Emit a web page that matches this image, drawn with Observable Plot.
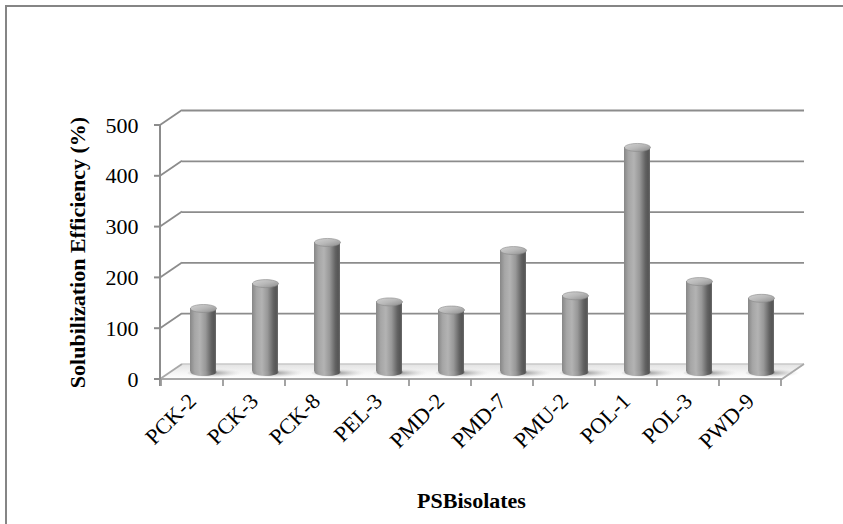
<!DOCTYPE html>
<html>
<head>
<meta charset="utf-8">
<script src="https://cdn.jsdelivr.net/npm/d3@7"></script>
<script src="https://cdn.jsdelivr.net/npm/@observablehq/plot@0.6"></script>
<style>
  body { margin: 0; background: #fff; }
  #wrap { position: relative; width: 843px; height: 524px; overflow: hidden; }
  #wrap svg { position: absolute; left: 0; top: 0; z-index: 1; }
  #frame { position: absolute; left: 5px; top: 5px; width: 900px; height: 600px; z-index: 2;
           border-top: 2px solid #858585; border-left: 2px solid #858585; pointer-events: none; }
</style>
</head>
<body>
<div id="wrap"><div id="frame"></div></div>
<script>
// Phosphate-solubilizing bacterial isolates and their solubilization efficiency (%)
const isolates = ["PCK-2", "PCK-3", "PCK-8", "PEL-3", "PMD-2", "PMD-7", "PMU-2", "POL-1", "POL-3", "PWD-9"];
const efficiency = [125, 174, 255, 138, 122, 239, 150, 442, 178, 145];
const yTicks = [0, 100, 200, 300, 400, 500];
const gridValues = [100, 200, 300, 400, 500];

const rows = isolates.map((name, i) => ({name, value: efficiency[i]}));

// pseudo-3D depth of the plot box (pixels) and the cylinder geometry
const DX = 22, DY = -15;
const MID_DX = DX / 2, MID_DY = DY / 2;
const CYL_W = 26, CAP_RY = 4;

// ellipse path for custom dot symbols
function ellipse(rx, ry) {
  const k = 0.5523;
  return {
    draw(ctx) {
      ctx.moveTo(rx, 0);
      ctx.bezierCurveTo(rx, ry * k, rx * k, ry, 0, ry);
      ctx.bezierCurveTo(-rx * k, ry, -rx, ry * k, -rx, 0);
      ctx.bezierCurveTo(-rx, -ry * k, -rx * k, -ry, 0, -ry);
      ctx.bezierCurveTo(rx * k, -ry, rx, -ry * k, rx, 0);
      ctx.closePath();
    }
  };
}

// floor, side wall, front axis lines and tick marks, plus shared gradients
function box(index, scales, values, dims) {
  const {x, y} = scales;
  const g = d3.create("svg:g");
  const defs = g.append("defs");

  const body = defs.append("linearGradient").attr("id", "cyl-body").attr("x1", 0).attr("x2", 1).attr("y1", 0).attr("y2", 0);
  [[0, "#878787"], [0.18, "#a6a6a6"], [0.38, "#b3b3b3"], [0.6, "#989898"], [0.82, "#636363"], [0.93, "#555555"], [1, "#6c6c6c"]]
    .forEach(([o, c]) => body.append("stop").attr("offset", o).attr("stop-color", c));

  const cap = defs.append("linearGradient").attr("id", "cyl-cap").attr("x1", 0).attr("x2", 1).attr("y1", 0).attr("y2", 1);
  [[0, "#d2d2d2"], [0.5, "#b8b8b8"], [1, "#8c8c8c"]]
    .forEach(([o, c]) => cap.append("stop").attr("offset", o).attr("stop-color", c));

  const shadow = defs.append("radialGradient").attr("id", "cyl-shadow").attr("cx", 0.4).attr("cy", 0.5).attr("r", 0.5);
  [[0, "#6e6e6e", 0.75], [0.45, "#9a9a9a", 0.45], [1, "#d0d0d0", 0]]
    .forEach(([o, c, a]) => shadow.append("stop").attr("offset", o).attr("stop-color", c).attr("stop-opacity", a));

  const floor = defs.append("linearGradient").attr("id", "floor").attr("x1", 0).attr("x2", 0).attr("y1", 0).attr("y2", 1);
  [[0, "#e2e2e2"], [0.55, "#f4f4f4"], [1, "#ffffff"]]
    .forEach(([o, c]) => floor.append("stop").attr("offset", o).attr("stop-color", c));

  const x0 = dims.marginLeft, x1 = dims.width - dims.marginRight, y0 = y(0);
  const step = x.bandwidth ? x.step() : (x1 - x0) / isolates.length;

  // floor
  g.append("path")
    .attr("d", `M${x0},${y0}L${x1},${y0}L${x1 + DX},${y0 + DY}L${x0 + DX},${y0 + DY}Z`)
    .attr("fill", "url(#floor)").attr("stroke", "none");
  g.append("path")
    .attr("d", `M${x0 + DX},${y0 + DY}L${x1 + DX},${y0 + DY}`)
    .attr("fill", "none").attr("stroke", "#c8c8c8").attr("stroke-width", 1.6);
  g.append("path")
    .attr("d", `M${x0},${y0}L${x1},${y0}L${x1 + DX},${y0 + DY}`)
    .attr("fill", "none").attr("stroke", "#a8a8a8").attr("stroke-width", 1.8);

  // side wall diagonals
  for (const t of yTicks) {
    g.append("line")
      .attr("x1", x0).attr("y1", y(t)).attr("x2", x0 + DX).attr("y2", y(t) + DY)
      .attr("stroke", t === 0 ? "#a8a8a8" : "#8c8c8c").attr("stroke-width", 1.8);
  }

  // front value axis with its tick marks
  g.append("line").attr("x1", x0).attr("x2", x0).attr("y1", y(0) + 7).attr("y2", y(500))
    .attr("stroke", "#8c8c8c").attr("stroke-width", 2);
  for (const t of yTicks) {
    g.append("line").attr("x1", x0 - 6).attr("x2", x0).attr("y1", y(t)).attr("y2", y(t))
      .attr("stroke", "#8c8c8c").attr("stroke-width", 2);
  }

  // category boundary ticks under the front floor edge
  const edges = isolates.map(c => x(c)).concat([x(isolates[isolates.length - 1]) + step]);
  for (const e of edges) {
    g.append("line").attr("x1", e).attr("x2", e).attr("y1", y0).attr("y2", y0 + 7)
      .attr("stroke", "#9a9a9a").attr("stroke-width", 1.8);
  }
  return g.node();
}

const serif = "'Liberation Serif', 'Times New Roman', serif";

const chart = Plot.plot({
  width: 843,
  height: 524,
  marginLeft: 160,
  marginRight: 61,
  marginTop: 125,
  marginBottom: 145,
  style: {fontFamily: serif, fontSize: "22px", color: "#000", background: "transparent", overflow: "visible"},
  x: {type: "band", domain: isolates, padding: 0, label: null, tickSize: 0, tickPadding: 18, tickRotate: -45},
  y: {domain: [0, 500], ticks: yTicks, label: null, tickSize: 0, tickPadding: 22},
  marks: [
    box,
    Plot.ruleY(gridValues, {dx: DX, dy: DY, stroke: "#8c8c8c", strokeWidth: 1.8}),
    Plot.dot(rows, {x: "name", y: 0, dx: MID_DX + 14, dy: MID_DY + 1, symbol: ellipse(30, 4.5), fill: "url(#cyl-shadow)", stroke: "none"}),
    Plot.dot(rows, {x: "name", y: 0, dx: MID_DX, dy: MID_DY, symbol: ellipse(CYL_W / 2, CAP_RY), fill: "url(#cyl-body)", stroke: "none"}),
    Plot.barY(rows, {x: "name", y: "value", dx: MID_DX, dy: MID_DY, insetLeft: 18, insetRight: 18, fill: "url(#cyl-body)"}),
    Plot.dot(rows, {x: "name", y: "value", dx: MID_DX, dy: MID_DY, symbol: ellipse(CYL_W / 2, CAP_RY), fill: "url(#cyl-cap)", stroke: "#8a8a8a", strokeWidth: 0.6}),
    Plot.text(["Solubilization Efficiency (%)"], {frameAnchor: "left", text: d => d, textAnchor: "middle", dx: -83, rotate: -90, fontWeight: "bold", fontSize: 22}),
    Plot.text(["PSBisolates"], {frameAnchor: "bottom", text: d => d, textAnchor: "middle", dy: 128, fontWeight: "bold", fontSize: 22})
  ]
});

document.getElementById("wrap").prepend(chart);
</script>
</body>
</html>
